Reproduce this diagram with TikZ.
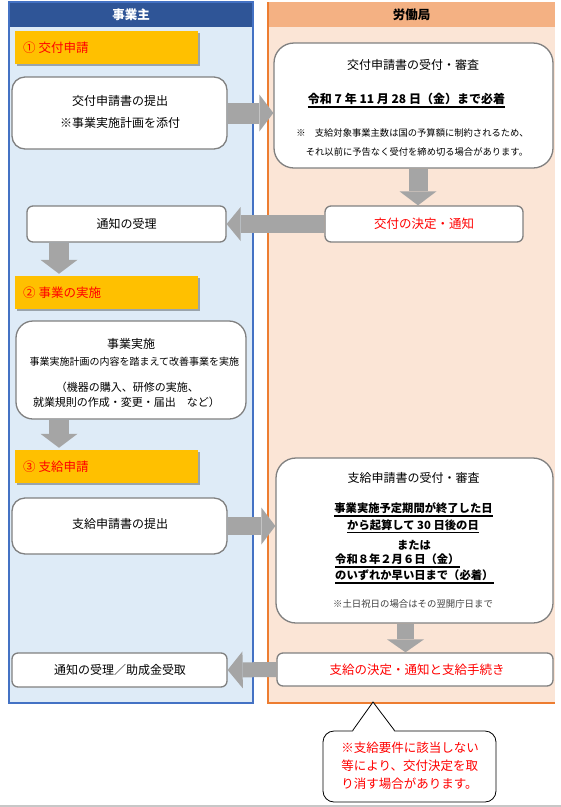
\documentclass[tikz,border=0pt]{standalone}
\usepackage{fontspec}
\setmainfont{Noto Sans CJK JP}
\usetikzlibrary{arrows.meta,shadows,calc}
\definecolor{hdrblue}{HTML}{2F5597}
\definecolor{laneblue}{HTML}{DEEBF7}
\definecolor{lineblue}{HTML}{4472C4}
\definecolor{hdrorange}{HTML}{F4B183}
\definecolor{laneorange}{HTML}{FBE5D6}
\definecolor{lineorange}{HTML}{ED7D31}
\definecolor{yel}{HTML}{FFC000}
\definecolor{arrgray}{HTML}{A5A5A5}
\definecolor{boxgray}{HTML}{808080}
\definecolor{myred}{HTML}{FF0000}
\definecolor{notegray}{HTML}{404040}
\newcommand\fsz[1]{\fontsize{#1}{#1}\selectfont}
\newcommand\myul[1]{\draw[line width=1.4pt] ([yshift=-3.5pt]#1.base west) -- ([yshift=-3.5pt]#1.base east);}
\begin{document}
\begin{tikzpicture}[x=1pt,y=-1pt,
  wbox/.style={draw=boxgray, line width=1.3pt, fill=white, inner sep=0pt},
  ylab/.style={fill=yel, minimum width=183pt, minimum height=33pt, inner sep=0pt,
    drop shadow={shadow xshift=2pt, shadow yshift=-2pt, opacity=0.3, fill=black}},
  txt/.style={inner sep=0pt, font=\fsz{12}},
  redtxt/.style={inner sep=0pt, font=\fsz{12.5}, text=myred},
  barrow/.style={draw=arrgray, line width=#1, -{Triangle[length=14pt,width=37pt,line width=0pt]}},
  hdr/.style={minimum height=25pt, inner sep=0pt, font=\fsz{12.5}\bfseries}
]
\useasboundingbox (0,0) rectangle (561,807);
% lanes
\fill[laneblue] (9,2) rectangle (253,703);
\fill[laneorange] (268,2) rectangle (555,703);
\node[hdr, fill=hdrblue, text=white, minimum width=244pt] (hL) at (131,14.5) {事業主};
\node[hdr, fill=hdrorange, text=black, minimum width=287pt] (hR) at (411.5,14.5) {労働局};
\draw[lineblue, line width=2pt] (9,2) rectangle (253,703);
\draw[lineorange, line width=2pt] (268,2) -- (268,703) -- (555,703);
\draw[black!22, line width=2pt] (0,806) -- (561,806);

% yellow step labels
\node[ylab] (L1) at (106.5,47.5) {};
\node[redtxt, anchor=west] (L1t) at (23,47.5) {① 交付申請};
\node[ylab] (L2) at (106.5,292.5) {};
\node[redtxt, anchor=west] (L2t) at (23,292.5) {② 事業の実施};
\node[ylab] (L3) at (106.5,466.5) {};
\node[redtxt, anchor=west] (L3t) at (23,466.5) {③ 支給申請};

% boxes
\node[wbox, rounded corners=13pt, minimum width=215pt, minimum height=72pt] (A) at (119.5,113) {};
\node[txt] (A1) at (120,101) {交付申請書の提出};
\node[txt] (A2) at (120,123) {※事業実施計画を添付};

\node[wbox, rounded corners=20pt, minimum width=279pt, minimum height=125pt] (B) at (413.5,105.5) {};
\node[txt] (B1) at (413,65) {交付申請書の受付・審査};
\node[txt, font=\fsz{12}\bfseries] (B2) at (406.5,99) {令和 7 年 11 月 28 日（金）まで必着};
\myul{B2}
\node[txt, font=\fsz{9.3}] (B3) at (412.5,133) {※　支給対象事業主数は国の予算額に制約されるため、};
\node[txt, font=\fsz{9.3}] (B4) at (417,152) {それ以前に予告なく受付を締め切る場合があります。};

\node[wbox, rounded corners=6pt, minimum width=198pt, minimum height=36pt] (C) at (424,224) {};
\node[redtxt] (Ct) at (424,224) {交付の決定・通知};

\node[wbox, rounded corners=6pt, minimum width=199pt, minimum height=36pt] (D) at (126.5,224) {};
\node[txt] (Dt) at (126.5,224) {通知の受理};

\node[wbox, rounded corners=17pt, minimum width=230pt, minimum height=98pt] (E) at (131,370) {};
\node[txt] (E1) at (131,344) {事業実施};
\node[txt, font=\fsz{10}] (E2) at (134.5,362) {事業実施計画の内容を踏まえて改善事業を実施};
\node[txt, font=\fsz{11}] (E3) at (127.5,387) {（機器の購入、研修の実施、};
\node[txt, font=\fsz{11}] (E4) at (126.5,402) {就業規則の作成・変更・届出　など）};

\node[wbox, rounded corners=13pt, minimum width=215pt, minimum height=56pt] (F) at (119.5,526) {};
\node[txt] (Ft) at (120,524) {支給申請書の提出};

\node[wbox, rounded corners=20pt, minimum width=277pt, minimum height=165pt] (G) at (414.5,540.5) {};
\node[txt] (G1) at (413.5,478) {支給申請書の受付・審査};
\node[txt, font=\fsz{11.3}\bfseries] (G2) at (413.5,508) {事業実施予定期間が終了した日};
\myul{G2}
\node[txt, font=\fsz{11.3}\bfseries] (G3) at (413,525) {から起算して 30 日後の日};
\myul{G3}
\node[txt, font=\fsz{11.3}\bfseries] (G4) at (414,545) {または};
\node[txt, font=\fsz{11.3}\bfseries, anchor=west] (G5) at (335,559) {令和８年２月６日（金）};
\myul{G5}
\node[txt, font=\fsz{11.3}\bfseries, anchor=west] (G6) at (335,575) {のいずれか早い日まで（必着）};
\myul{G6}
\node[txt, font=\fsz{9.4}, text=notegray] (G7) at (413,604) {※土日祝日の場合はその翌開庁日まで};

\node[wbox, rounded corners=6pt, minimum width=276pt, minimum height=33pt] (H) at (415,669.5) {};
\node[redtxt] (Ht) at (417,669.5) {支給の決定・通知と支給手続き};

\node[wbox, rounded corners=6pt, minimum width=215pt, minimum height=34pt] (I) at (119.5,670) {};
\node[txt] (It) at (120,670) {通知の受理／助成金受取};

% block arrows
\draw[barrow=21pt] (A.east) -- (A.east -| B.west);
\draw[barrow=19pt] ([xshift=4.5pt]B.south) -- ([xshift=4.5pt]B.south |- C.north);
\draw[barrow=18pt, -{Triangle[length=14pt,width=34pt,line width=0pt]}] (C.west) -- (D.east);
\draw[barrow=20pt, shorten >=2pt] ([xshift=-67.5pt]D.south) -- ([xshift=-67.5pt]D.south |- L2.north);
\draw[barrow=20pt, shorten >=2pt] ([xshift=-72pt]E.south) -- ([xshift=-72pt]E.south |- L3.north);
\draw[barrow=18pt] (F.east) -- (F.east -| G.west);
\draw[barrow=17pt, -{Triangle[length=13pt,width=37pt,line width=0pt]}] ([xshift=-9pt]G.south) -- ([xshift=-9pt]G.south |- H.north);
\draw[barrow=15pt, -{Triangle[length=15pt,width=37pt,line width=0pt]}] (H.west) -- (I.east);

% callout
\node[draw=black, line width=0.8pt, fill=white, rounded corners=11pt, minimum width=173pt, minimum height=71pt, inner sep=0pt] (N) at (409.5,766.5) {};
\coordinate (tip) at (373,702);
\coordinate (pl) at ($(N.north west)+(30,0)$);
\coordinate (pr) at ($(N.north west)+(72,0)$);
\fill[white] ($(pl)+(0,1.5)$) -- (tip) -- ($(pr)+(0,1.5)$) -- cycle;
\draw[line width=0.8pt] (pl) -- (tip) -- (pr);
\node[inner sep=0pt, font=\fontsize{12.5}{18}\selectfont, text=myred, align=left] (Nt) at (410,766) {※支給要件に該当しない\\等により、交付決定を取\\り消す場合があります。};
\end{tikzpicture}
\end{document}
